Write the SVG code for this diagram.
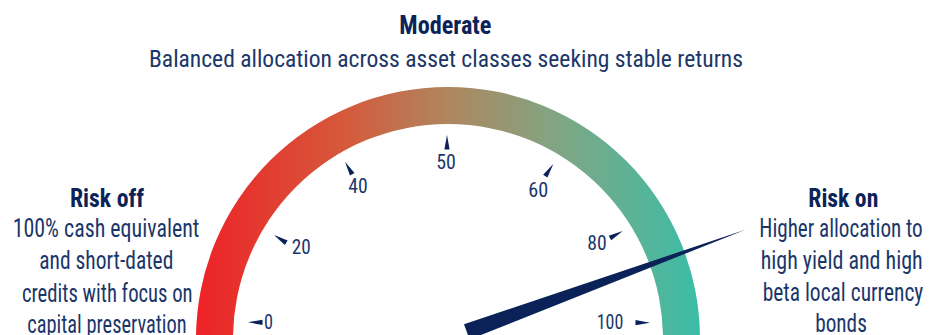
<svg xmlns="http://www.w3.org/2000/svg" xmlns:xlink="http://www.w3.org/1999/xlink" width="929" height="335" viewBox="0 0 929 335">
  <defs>
    <linearGradient id="arcGrad" gradientUnits="userSpaceOnUse" x1="196" y1="0" x2="700" y2="0">
      <stop offset="0" stop-color="#EE2227"/>
      <stop offset="0.3" stop-color="#D55A3C"/>
      <stop offset="0.5" stop-color="#AE865F"/>
      <stop offset="0.72" stop-color="#80A684"/>
      <stop offset="1" stop-color="#3BBDA7"/>
    </linearGradient>
    <polygon id="tick" points="0,0 2.6,14.5 -2.6,14.5"/>
    <style>
      .reg { font-family: "Liberation Sans Narrow", "Roboto Condensed", "Liberation Sans", Arial, sans-serif; fill: #1B3669; }
      .bold { font-family: "Liberation Sans Narrow", "Roboto Condensed", "Liberation Sans", Arial, sans-serif; font-weight: bold; fill: #0B2458; }
      .num { font-size: 20px; text-anchor: middle; }
      .side { font-size: 25px; text-anchor: middle; }
      .tk { fill: #0A2257; }
    </style>
  </defs>
  <rect width="929" height="335" fill="#FFFFFF"/>

  <g id="gauge-arc">
    <path d="M 196 339 A 252 252 0 0 1 700 339 L 663 339 A 215 215 0 0 0 233 339 Z" fill="url(#arcGrad)"/>
  </g>

  <g id="ticks" class="tk">
    <use xlink:href="#tick" href="#tick" transform="translate(248,322.3) rotate(-90)"/>
    <use xlink:href="#tick" href="#tick" transform="translate(274,235) rotate(-57.4)"/>
    <use xlink:href="#tick" href="#tick" transform="translate(345,161.7) rotate(-30)"/>
    <use xlink:href="#tick" href="#tick" transform="translate(447,135)"/>
    <use xlink:href="#tick" href="#tick" transform="translate(553.3,164) rotate(33.6)"/>
    <use xlink:href="#tick" href="#tick" transform="translate(622.7,231) rotate(61.4)"/>
    <use xlink:href="#tick" href="#tick" transform="translate(650,322.7) rotate(90)"/>
  </g>

  <g id="tick-labels">
    <text class="reg num" x="268.5" y="329" textLength="9" lengthAdjust="spacingAndGlyphs">0</text>
    <text class="reg num" x="301.2" y="254" textLength="19" lengthAdjust="spacingAndGlyphs">20</text>
    <text class="reg num" x="358" y="192.7" textLength="19.4" lengthAdjust="spacingAndGlyphs">40</text>
    <text class="reg num" x="446" y="169.3" textLength="19.6" lengthAdjust="spacingAndGlyphs">50</text>
    <text class="reg num" x="538.3" y="196.7" textLength="20" lengthAdjust="spacingAndGlyphs">60</text>
    <text class="reg num" x="597" y="250" textLength="19.4" lengthAdjust="spacingAndGlyphs">80</text>
    <text class="reg num" x="610" y="329.3" textLength="26.6" lengthAdjust="spacingAndGlyphs">100</text>
  </g>

  <g id="needle">
    <polygon points="746,229.5 469.6,339.5 464,324.3" fill="#0A2257"/>
  </g>

  <g id="moderate">
    <text class="bold" x="445.3" y="34.3" font-size="26" text-anchor="middle" textLength="92" lengthAdjust="spacingAndGlyphs">Moderate</text>
    <text class="reg" x="446" y="66.7" font-size="24" text-anchor="middle" textLength="594" lengthAdjust="spacingAndGlyphs">Balanced allocation across asset classes seeking stable returns</text>
  </g>

  <g id="risk-off">
    <text class="bold side" x="107" y="207.3" textLength="74" lengthAdjust="spacingAndGlyphs">Risk off</text>
    <text class="reg side" x="106" y="237.3" textLength="186.7" lengthAdjust="spacingAndGlyphs">100% cash equivalent</text>
    <text class="reg side" x="106.3" y="269.3" textLength="134" lengthAdjust="spacingAndGlyphs">and short-dated</text>
    <text class="reg side" x="107.3" y="301.5" textLength="170.7" lengthAdjust="spacingAndGlyphs">credits with focus on</text>
    <text class="reg side" x="107" y="332.5" textLength="159.4" lengthAdjust="spacingAndGlyphs">capital preservation</text>
  </g>

  <g id="risk-on">
    <text class="bold side" x="843.3" y="206.7" textLength="70" lengthAdjust="spacingAndGlyphs">Risk on</text>
    <text class="reg side" x="841" y="237.3" textLength="163.4" lengthAdjust="spacingAndGlyphs">Higher allocation to</text>
    <text class="reg side" x="841.7" y="269" textLength="162" lengthAdjust="spacingAndGlyphs">high yield and high</text>
    <text class="reg side" x="843" y="300.5" textLength="160.6" lengthAdjust="spacingAndGlyphs">beta local currency</text>
    <text class="reg side" x="841" y="332" textLength="51.7" lengthAdjust="spacingAndGlyphs">bonds</text>
  </g>
</svg>
